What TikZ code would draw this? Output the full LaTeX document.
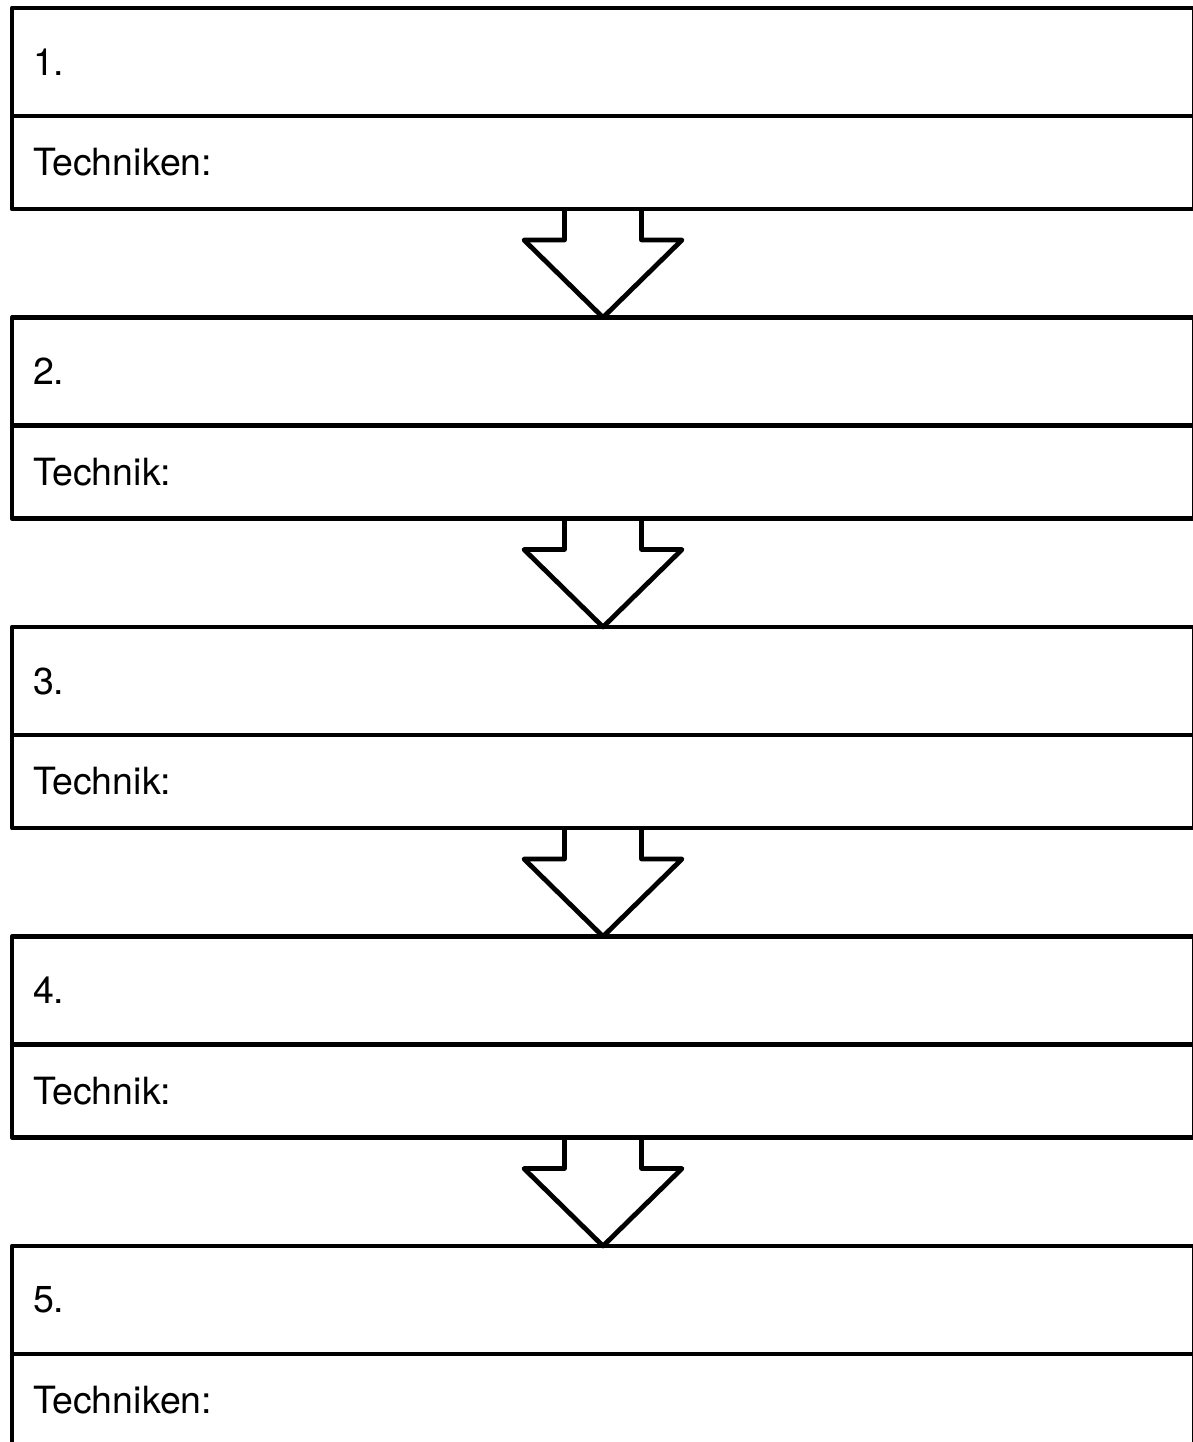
\documentclass[tikz,border=0pt]{standalone}
\usepackage{fontspec}
\setmainfont{TeX Gyre Heros}
\usetikzlibrary{positioning,calc}

\tikzset{
  stage/.style={draw, line width=4.8pt, line join=round, outer sep=0pt,
    inner xsep=21pt, inner ysep=0pt, text width=1140pt, align=left,
    minimum height=108pt, font=\fontsize{37.5}{45}\selectfont},
  technik/.style={stage, minimum height=93pt},
  hollow/.style={draw, line width=4.8pt, line join=round,
    to path={($(\tikztostart)+(-38.5,0)$) -- ++(0,31) -- ++(-40.5,0)
      -- (\tikztotarget) -- ($(\tikztostart)+(79,31)$) -- ++(-40.5,0)
      -- ++(0,-31)}}
}

\begin{document}
\begin{tikzpicture}[x=1pt,y=-1pt]
            \useasboundingbox (0,0) rectangle (1193,1442);

            \node (step1) [stage, anchor=north] at (603,8) {1.};
            \node (tech1) [technik, below=0pt of step1] {Techniken:};
            \node (step2) [stage, below=108.5pt of tech1] {2.};
            \node (tech2) [technik, below=0pt of step2] {Technik:};
            \node (step3) [stage, below=108.5pt of tech2] {3.};
            \node (tech3) [technik, below=0pt of step3] {Technik:};
            \node (step4) [stage, below=108.5pt of tech3] {4.};
            \node (tech4) [technik, below=0pt of step4] {Technik:};
            \node (step5) [stage, below=108.5pt of tech4] {5.};
            \node (tech5) [technik, below=0pt of step5] {Techniken:};

            \path
            (tech1.south) edge[hollow] (step2.north)
            (tech2.south) edge[hollow] (step3.north)
            (tech3.south) edge[hollow] (step4.north)
            (tech4.south) edge[hollow] (step5.north);
        \end{tikzpicture}
\end{document}
